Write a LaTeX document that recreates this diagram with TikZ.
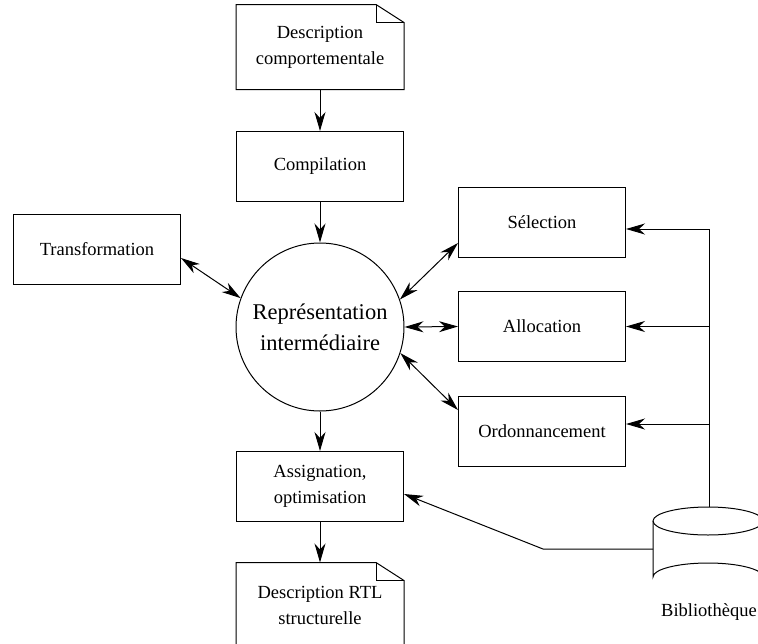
\documentclass[tikz,border=0pt]{standalone}
\usepackage{fontspec}
\setmainfont{Liberation Serif}
\usetikzlibrary{arrows.meta,calc}
\begin{document}
\begin{tikzpicture}[x=1pt,y=-1pt,
  line width=1pt,
  ah/.tip={Stealth[length=19pt,width=11pt,inset=6pt]},
  tip/.style={-ah},
  dtip/.style={ah-ah},
  txt/.style={font=\fontsize{18.5}{26}\selectfont, align=center},
  box/.style={txt, draw, rectangle, minimum width=167pt, minimum height=70pt, inner sep=0pt},
  docbox/.style={txt, rectangle, minimum width=167pt, minimum height=84pt, inner sep=0pt},
  bigcirc/.style={circle, draw, minimum size=168pt, inner sep=0pt, align=center,
     font=\fontsize{22.5}{31}\selectfont}]
\useasboundingbox (0,0) rectangle (758,643);
\clip (0,0) rectangle (758,643);

% document-shaped boxes
\node[docbox] (dc) at (320,47) {Description\\comportementale};
\draw (dc.south west) -- (dc.north west) -- ([xshift=-28pt]dc.north east)
      -- ([yshift=-18pt]dc.north east) -- (dc.south east) -- cycle;
\draw ([xshift=-28pt]dc.north east) -- ([xshift=-28pt,yshift=-18pt]dc.north east)
      -- ([yshift=-18pt]dc.north east);

\node[docbox] (rtl) at (320,605) {Description RTL\\structurelle};
\draw (rtl.south west) -- (rtl.north west) -- ([xshift=-28pt]rtl.north east)
      -- ([yshift=-18pt]rtl.north east) -- (rtl.south east);
\draw ([xshift=-28pt]rtl.north east) -- ([xshift=-28pt,yshift=-18pt]rtl.north east)
      -- ([yshift=-18pt]rtl.north east);

% rectangular boxes
\node[box] (comp) at (320,166.5) {Compilation};
\node[box] (trans) at (97,249) {Transformation};
\node[box] (sel) at (542,222) {Sélection};
\node[box] (alloc) at (542,326.5) {Allocation};
\node[box] (ord) at (542,431) {Ordonnancement};
\node[box] (assign) at (320,486.5) {Assignation,\\optimisation};

% central circle
\node[bigcirc] (ir) at (320,327) {Représentation\\intermédiaire};

% library cylinder
\draw (708,521) ellipse [x radius=55, y radius=14];
\draw (653,521) -- (653,577) arc [start angle=180, end angle=360, x radius=55, y radius=14];
\coordinate (bibtop) at (709,507);
\coordinate (bibleft) at (653,549);
\coordinate (bend) at (543,549);
\node[txt] (bib) at (709,612) {Bibliothèque};

% flow arrows
\draw[tip] (dc.south) -- (comp.north);
\draw[tip] (comp.south) -- (ir.north);
\draw[tip] (ir.south) -- (assign.north);
\draw[tip] (assign.south) -- (rtl.north);

% bidirectional arrows
\draw[dtip] ([yshift=-9pt]trans.east) -- (ir.160);
\draw[dtip] (ir.19) -- ([yshift=-21pt]sel.west);
\draw[dtip] (ir.east) -- (alloc.west);
\draw[dtip] (ir.-18) -- ([yshift=21pt]ord.west);

% library connections
\draw[tip] (bibtop) |- ([yshift=-7pt]sel.east);
\draw[tip] (bibtop) |- (alloc.east);
\draw[tip] (bibtop) |- ([yshift=7pt]ord.east);
\draw[tip] (bibleft) -- (bend) -- ([yshift=-7.5pt]assign.east);
\end{tikzpicture}
\end{document}
